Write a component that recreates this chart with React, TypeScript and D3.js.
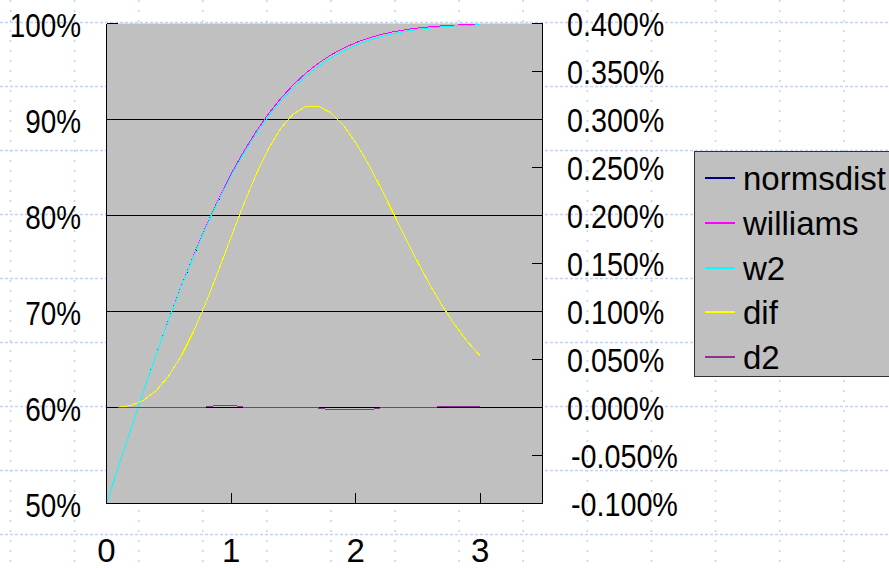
import React from "react";
import * as d3 from "d3";

// x values (standard deviations from the mean)
const xValues = [
  0, 0.1, 0.2, 0.3, 0.4, 0.5, 0.6, 0.7, 0.8, 0.9, 1.0, 1.1, 1.2, 1.3, 1.4, 1.5,
  1.6, 1.7, 1.8, 1.9, 2.0, 2.1, 2.2, 2.3, 2.4, 2.5, 2.6, 2.7, 2.8, 2.9, 3.0,
];

// cumulative normal (left axis)
const normsdist = [
  0.5, 0.5398278, 0.5792597, 0.6179114, 0.6554217, 0.6914625, 0.7257469,
  0.7580363, 0.7881446, 0.8159399, 0.8413447, 0.8643339, 0.8849303, 0.9031995,
  0.9192433, 0.9331928, 0.9452007, 0.9554345, 0.9640697, 0.9712834, 0.9772499,
  0.9821356, 0.9860966, 0.9892759, 0.9918025, 0.9937903, 0.9953388, 0.996533,
  0.9974449, 0.9981342, 0.9986501,
];

// Williams approximation (left axis)
const williams = [
  0.5, 0.5398309, 0.579283, 0.6179886, 0.6555984, 0.6917914, 0.7262836,
  0.7588326, 0.7892432, 0.81737, 0.8431188, 0.866446, 0.8873554, 0.9058956,
  0.9221543, 0.9362521, 0.9483361, 0.9585727, 0.9671411, 0.9742258, 0.9800112,
  0.9846768, 0.9883896, 0.9913074, 0.99357, 0.9953013, 0.9966084, 0.997582,
  0.9982976, 0.9988163, 0.9991872,
];

// refined approximation (left axis)
const w2 = [
  0.5, 0.5398278, 0.5792597, 0.6179114, 0.6554217, 0.6914625, 0.7257519,
  0.7580413, 0.7881496, 0.8159649, 0.8413697, 0.8643389, 0.8849353, 0.9032045,
  0.9192433, 0.9331928, 0.9451957, 0.9554295, 0.9640447, 0.9712584, 0.9772249,
  0.9821106, 0.9860916, 0.9892709, 0.9917975, 0.9937903, 0.9953388, 0.996543,
  0.9974549, 0.9981442, 0.9986601,
];

// williams - normsdist (right axis)
const dif = [
  0, 0.0000031, 0.0000233, 0.0000772, 0.0001767, 0.0003289, 0.0005367,
  0.0007963, 0.0010986, 0.0014301, 0.0017741, 0.0021121, 0.0024251, 0.0026961,
  0.002911, 0.0030593, 0.0031354, 0.0031382, 0.0030714, 0.0029424, 0.0027613,
  0.0025412, 0.002293, 0.0020315, 0.0017675, 0.001511, 0.0012696, 0.001049,
  0.0008527, 0.0006821, 0.0005371,
];

// w2 - normsdist (right axis)
const d2 = [
  0, 0, 0, 0, 0, 0, 0.000005, 0.000005, 0.000005, 0.000025, 0.000025,
  0.000005, 0.000005, 0.000005, 0, 0, -0.000005, -0.000005, -0.000025,
  -0.000025, -0.000025, -0.000025, -0.000005, -0.000005, -0.000005, 0, 0,
  0.00001, 0.00001, 0.00001, 0.00001,
];

const leftTicks = [0.5, 0.6, 0.7, 0.8, 0.9, 1.0];
const rightTicks = [-0.001, -0.0005, 0, 0.0005, 0.001, 0.0015, 0.002, 0.0025, 0.003, 0.0035, 0.004];
const xTicks = [0, 1, 2, 3];

const seriesNames = ["normsdist", "williams", "w2", "dif", "d2"];
const seriesColors = ["#000080", "#ff00ff", "#00ffff", "#ffff00", "#903090"];

const W = 889;
const H = 568;
const FONT = "'Liberation Sans', Arial, sans-serif";

export default function App() {
  const left = 106.5;
  const right = 542.5;
  const top = 23.5;
  const bottom = 503.5;

  const x = d3.scaleLinear().domain([0, 3.5]).range([left, right]);
  const yL = d3.scaleLinear().domain([0.5, 1.0]).range([bottom, top]);
  const yR = d3.scaleLinear().domain([-0.001, 0.004]).range([bottom, top]);

  const lineL = (vals: number[]) =>
    d3.line<number>().x((_, i) => x(xValues[i])).y((v) => yL(v))(vals) || "";
  const lineR = (vals: number[]) =>
    d3.line<number>().x((_, i) => x(xValues[i])).y((v) => yR(v))(vals) || "";

  const seriesPaths = [
    lineL(normsdist),
    lineL(williams),
    lineL(w2),
    lineR(dif),
    lineR(d2),
  ];

  // sheet background dotted grid
  const hDots = d3.range(0, 9).map((k) => 22.5 + 64 * k);
  const vDots = d3.range(0, 14).map((k) => 10.5 + 64.1 * k);

  const fmtL = d3.format(".0%");
  const fmtR = (v: number) => (v < 0 ? "-" : "") + d3.format(".3%")(Math.abs(v));

  const legendX = 694.5;
  const legendY = 151.5;
  const legendRow = 44.8;

  return (
    <svg
      width={W}
      height={H}
      style={{ position: "absolute", left: 0, top: 0, background: "#ffffff" }}
      fontFamily={FONT}
    >
      <g stroke="#c4d2f6" strokeWidth={1.5} fill="none">
        {hDots.map((y, i) => (
          <line key={"h" + i} x1={0} x2={W} y1={y} y2={y} strokeDasharray="3 2" />
        ))}
        {vDots.map((vx, i) => (
          <line key={"v" + i} x1={vx} x2={vx} y1={0} y2={H} strokeDasharray="2 8" />
        ))}
      </g>

      {/* plot area */}
      <rect x={left} y={top} width={right - left} height={bottom - top} fill="#c0c0c0" />

      {/* major gridlines */}
      <g stroke="#000" strokeWidth={1} shapeRendering="crispEdges">
        {leftTicks.slice(1, -1).map((t) => (
          <line key={t} x1={left} x2={right} y1={yL(t)} y2={yL(t)} />
        ))}
      </g>

      {/* series */}
      <g fill="none" strokeWidth={1} shapeRendering="crispEdges">
        {seriesPaths.map((p, i) => (
          <path key={seriesNames[i]} d={p} stroke={seriesColors[i]} />
        ))}
      </g>

      {/* axes */}
      <g stroke="#000" strokeWidth={1} shapeRendering="crispEdges">
        <line x1={left} x2={left} y1={top} y2={bottom} />
        <line x1={right} x2={right} y1={top} y2={bottom} />
        <line x1={left} x2={right} y1={bottom} y2={bottom} />
        {leftTicks.map((t) => (
          <line key={"lt" + t} x1={left} x2={left + 11} y1={yL(t)} y2={yL(t)} />
        ))}
        {rightTicks.map((t) => (
          <line key={"rt" + t} x1={right - 11} x2={right} y1={yR(t)} y2={yR(t)} />
        ))}
        {xTicks.map((t) => (
          <line key={"xt" + t} x1={x(t)} x2={x(t)} y1={bottom - 11} y2={bottom} />
        ))}
      </g>

      {/* left axis labels */}
      <g fontSize={34} fill="#000" textAnchor="end">
        {leftTicks.map((t) => (
          <text key={"ll" + t} transform={`translate(81,${yL(t) + 13}) scale(0.82,1)`}>
            {fmtL(t)}
          </text>
        ))}
      </g>

      {/* right axis labels */}
      <g fontSize={33} fill="#000" textAnchor="start">
        {rightTicks.map((t) => (
          <text
            key={"rl" + t}
            transform={`translate(${t < 0 ? 571 : 567},${yR(t) + 12}) scale(0.87,1)`}
          >
            {fmtR(t)}
          </text>
        ))}
      </g>

      {/* x axis labels */}
      <g fontSize={33} fill="#000" textAnchor="middle">
        {xTicks.map((t) => (
          <text key={"xl" + t} x={x(t)} y={562}>
            {t}
          </text>
        ))}
      </g>

      {/* legend */}
      <rect
        x={legendX}
        y={legendY}
        width={W - legendX + 10}
        height={225}
        fill="#c0c0c0"
        stroke="#333"
        strokeWidth={1}
      />
      {seriesNames.map((name, i) => {
        const cy = legendY + 26.5 + i * legendRow;
        return (
          <g key={"lg" + name}>
            <line
              x1={705}
              x2={735}
              y1={Math.round(cy)}
              y2={Math.round(cy)}
              stroke={seriesColors[i]}
              strokeWidth={2}
            />
            <text x={743} y={cy + 12} fontSize={33} fill="#000">
              {name}
            </text>
          </g>
        );
      })}
    </svg>
  );
}
